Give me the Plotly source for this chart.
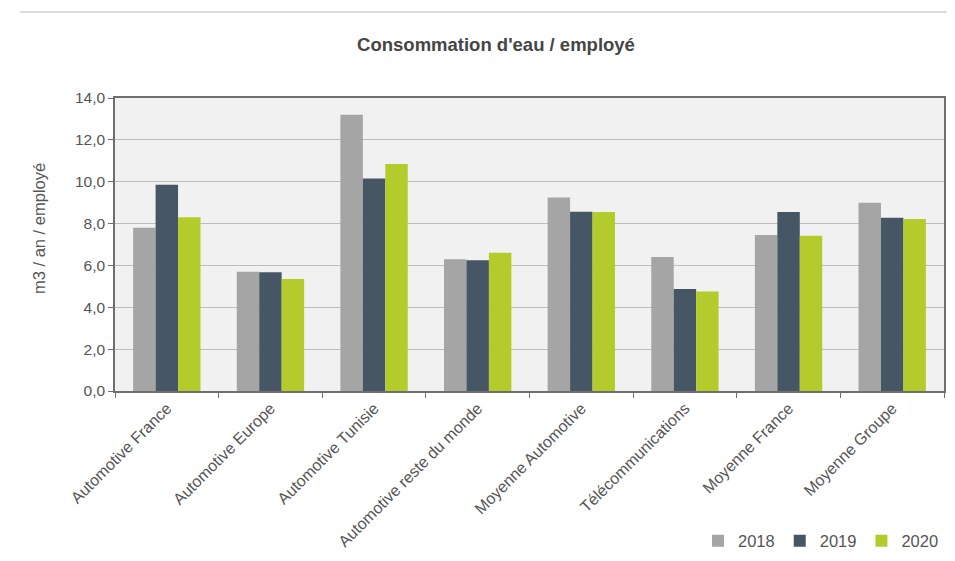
import plotly.graph_objects as go

categories = ["Automotive France", "Automotive Europe", "Automotive Tunisie",
              "Automotive reste du monde", "Moyenne Automotive", "Télécommunications",
              "Moyenne France", "Moyenne Groupe"]
v2018 = [7.8, 5.7, 13.2, 6.3, 9.25, 6.4, 7.45, 9.0]
v2019 = [9.85, 5.68, 10.15, 6.25, 8.57, 4.87, 8.55, 8.28]
v2020 = [8.3, 5.35, 10.85, 6.6, 8.55, 4.75, 7.42, 8.22]
years = ["2018", "2019", "2020"]
colors = ["#a5a5a5", "#465665", "#b3cb2b"]
yticks = [0, 2, 4, 6, 8, 10, 12, 14]

# page body keeps its default 8px margin, so the figure is 16px smaller than the window
OFF = 8
W, H = 955 - 2 * OFF, 561 - 2 * OFF
L, R, T, B = 115 - OFF, W - (944 - OFF), 98 - OFF, H - (391 - OFF)
plot_h = H - T - B
plot_w = W - L - R


def px_x(page_x):
    return (page_x - OFF - L) / plot_w


def px_y(page_y):
    return (T + plot_h - (page_y - OFF)) / plot_h


fig = go.Figure()
for name, vals, col in zip(years, [v2018, v2019, v2020], colors):
    fig.add_trace(go.Bar(x=categories, y=vals, name=name, marker_color=col,
                         marker_line_width=0))

fig.update_layout(
    width=W, height=H,
    margin=dict(l=L, r=R, t=T, b=B, autoexpand=False),
    paper_bgcolor="#ffffff",
    plot_bgcolor="#f1f1f1",
    separators=", ",
    font=dict(family="Liberation Sans, Arial, sans-serif", size=15.5, color="#555555"),
    title=dict(text="<b>Consommation d'eau / employé</b>", x=(496 - OFF) / W,
               xanchor="center", y=1 - (45 - OFF) / H, yanchor="middle",
               font=dict(size=18.5, color="#454545")),
    barmode="group",
    bargap=0.35,
    bargroupgap=0,
    legend=dict(orientation="h", x=1.0, xanchor="right",
                y=px_y(541), yanchor="middle",
                font=dict(size=16.5, color="#555555"), bgcolor="rgba(0,0,0,0)",
                itemwidth=30, tracegroupgap=0),
    xaxis=dict(tickangle=-45, showline=True, linecolor="#6e6e6e", linewidth=1.5,
               mirror=True, ticks="outside", tickson="boundaries", ticklen=5,
               tickcolor="#6e6e6e", showgrid=False, tickfont=dict(size=16),
               automargin=False),
    yaxis=dict(range=[0, 14], tickvals=yticks, tickformat=".1f",
               showline=True, linecolor="#6e6e6e", linewidth=1.5, mirror=True,
               ticks="outside", ticklen=5, tickcolor="#6e6e6e",
               gridcolor="#bdbdbd", gridwidth=1, zeroline=False,
               tickfont=dict(size=15.5), automargin=False),
    annotations=[dict(text="m3 / an / employé", xref="paper", yref="paper",
                      x=px_x(39), y=px_y(229), xanchor="center", yanchor="middle",
                      textangle=-90, showarrow=False,
                      font=dict(size=16.5, color="#555555"))],
    shapes=[dict(type="line", xref="paper", yref="paper",
                 x0=px_x(20), x1=(W - L) / plot_w,
                 y0=px_y(12), y1=px_y(12),
                 line=dict(color="#d0d0d0", width=1.5))],
)

fig.write_html("out.html")
